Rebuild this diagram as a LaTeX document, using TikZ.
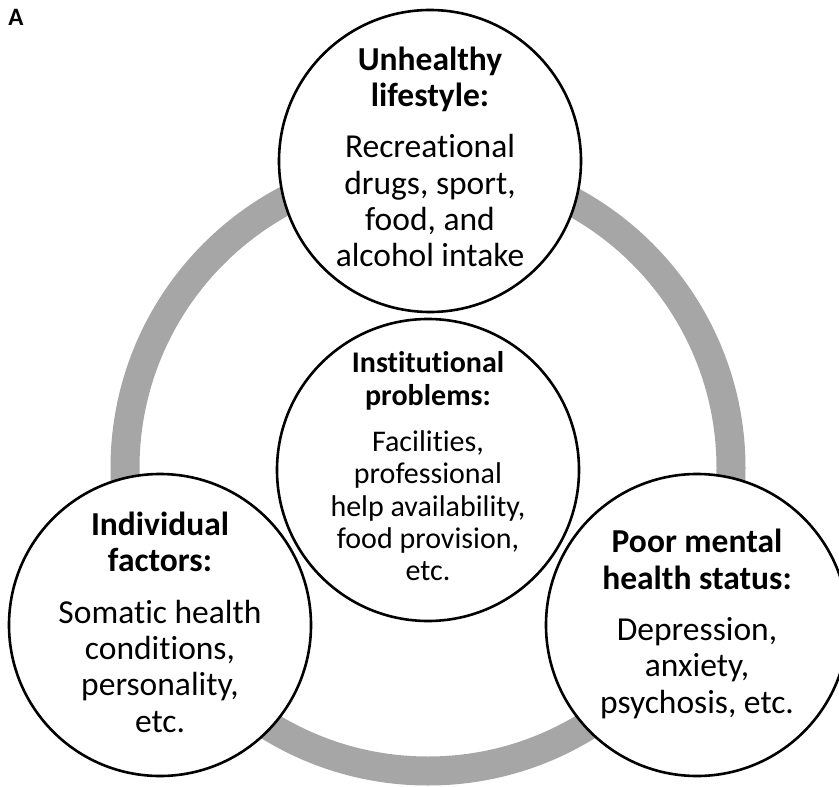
\documentclass[tikz,border=0pt]{standalone}
\usepackage{fontspec}
\setmainfont{Carlito}[Ligatures=CommonOff]
\definecolor{ringgrey}{HTML}{A6A6A6}
\begin{document}
\begin{tikzpicture}[x=1pt,y=-1pt,
  bubble/.style={circle, draw=black, line width=2.6pt, fill=white, inner sep=0pt, minimum size=302pt},
  outertext/.style={align=center, anchor=base, inner sep=0pt, font=\fontsize{33.5}{36.3}\selectfont},
  innertext/.style={align=center, anchor=base, inner sep=0pt, font=\fontsize{30}{32.3}\selectfont}]
\useasboundingbox (0,0) rectangle (839,787);
\fill[white] (0,0) rectangle (839,787);
\node[anchor=base, font=\fontsize{25}{25}\selectfont\bfseries, inner sep=0pt] (label) at (16,26) {A};
\coordinate (o) at (428,468);
\draw[ringgrey, line width=29pt] (o) circle[radius=303];
\node[bubble] (top) at (430,161) {};
\node[bubble] (mid) at (428,470) {};
\node[bubble] (left) at (160,625) {};
\node[bubble] (right) at (697,625) {};
\node[outertext] (toptext) at (430,266.7) {\textbf{Unhealthy}\\\textbf{lifestyle:}\\[15pt]Recreational\\drugs, sport,\\food, and\\alcohol intake};
\node[innertext] (midtext) at (428,580.7) {\textbf{Institutional}\\\textbf{problems:}\\[14pt]Facilities,\\professional\\help availability,\\food provision,\\etc.};
\node[outertext] (lefttext) at (160,732) {\textbf{Individual}\\\textbf{factors:}\\[15pt]Somatic health\\conditions,\\personality,\\etc.};
\node[outertext] (righttext) at (697,713) {\textbf{Poor mental}\\\textbf{health status:}\\[15pt]Depression,\\anxiety,\\psychosis, etc.};
\end{tikzpicture}
\end{document}
